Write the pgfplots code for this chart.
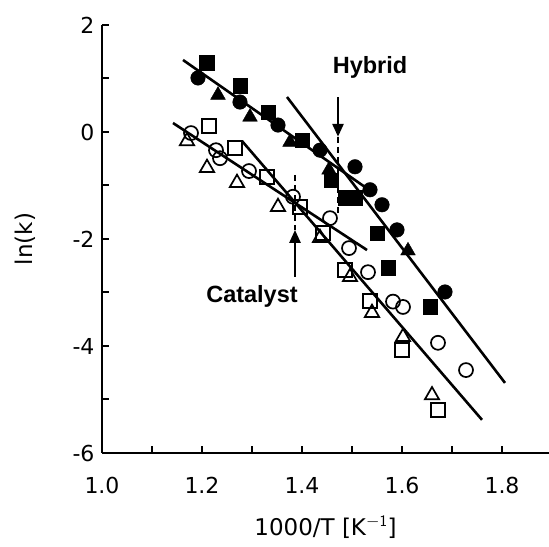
\documentclass[border=0pt]{standalone}
\usepackage{pgfplots}
\pgfplotsset{compat=1.18}
\usepackage{fontspec}
\setmainfont{DejaVu Sans}
\newfontfamily\arialb{Liberation Sans}
\usetikzlibrary{arrows.meta}
\begin{document}
\begin{tikzpicture}
\begin{axis}[
  scale only axis, width=447pt, height=428pt,
  xmin=1.0, xmax=1.894, ymin=-6, ymax=2,
  axis lines=left, axis line style={-, line width=2pt},
  clip=false,
  xtick={1.0,1.2,1.4,1.6,1.8}, xticklabels={1.0,1.2,1.4,1.6,1.8},
  minor xtick={1.1,1.3,1.5,1.7},
  ytick={-6,-4,-2,0,2}, yticklabels={-6,-4,-2,0,2},
  minor ytick={-5,-3,-1,1},
  tick align=inside,
  major tick length=7pt, minor tick length=7pt,
  every tick/.style={black, line width=2pt},
  tick label style={font=\fontsize{22}{26}\selectfont},
  xticklabel style={yshift=-21pt},
  yticklabel style={xshift=-4pt},
  xlabel={1000/T [K$^{\mathsf{-1}}$]},
  ylabel={ln(k)},
  label style={font=\fontsize{23}{27}\selectfont},
  xlabel style={at={(axis description cs:0.5,-0.173)}, anchor=center},
  ylabel style={at={(axis description cs:-0.172,0.5)}, anchor=center},
]
% fitted lines
\addplot[black, line width=2.6pt] coordinates {(1.162,1.346) (1.540,-1.12)};
\addplot[black, line width=2.6pt] coordinates {(1.370,0.654) (1.806,-4.69)};
\addplot[black, line width=2.6pt] coordinates {(1.142,0.168) (1.530,-2.206)};
\addplot[black, line width=2.6pt] coordinates {(1.280,-0.168) (1.760,-5.38)};
% dashed guides and arrows
\addplot[black, line width=1.6pt, dash pattern=on 6pt off 4pt] coordinates {(1.472,-0.09) (1.472,-1.51)};
\addplot[black, line width=2.6pt, -{Triangle[length=13pt,width=11pt]}] coordinates {(1.472,0.65) (1.472,-0.09)};
\addplot[black, line width=1.6pt, dash pattern=on 6pt off 4pt] coordinates {(1.386,-0.80) (1.386,-1.83)};
\addplot[black, line width=2.6pt, -{Triangle[length=13pt,width=11pt]}] coordinates {(1.386,-2.71) (1.386,-1.83)};
% filled squares
\addplot[only marks, mark=square*, mark size=7.3pt, black] coordinates {
(1.210,1.29) (1.276,0.86) (1.332,0.37) (1.400,-0.15) (1.458,-0.90)
(1.486,-1.23) (1.506,-1.23) (1.550,-1.89) (1.572,-2.54) (1.656,-3.27)};
% filled circles
\addplot[only marks, mark=*, mark size=7.3pt, black] coordinates {
(1.192,1.01) (1.276,0.56) (1.352,0.13) (1.436,-0.34) (1.506,-0.65)
(1.536,-1.08) (1.560,-1.36) (1.590,-1.83) (1.686,-2.99)};
% filled triangles
\addplot[only marks, mark=triangle*, mark size=8.5pt, black] coordinates {
(1.232,0.69) (1.296,0.28) (1.376,-0.19) (1.454,-0.71) (1.612,-2.22)};
% open squares
\addplot[only marks, mark=square, mark size=7pt, black, mark options={line width=1.7pt, fill=white}] coordinates {
(1.214,0.11) (1.266,-0.30) (1.330,-0.84) (1.396,-1.40) (1.442,-1.89)
(1.486,-2.58) (1.536,-3.16) (1.600,-4.07) (1.672,-5.20)};
% open circles
\addplot[only marks, mark=o, mark size=7pt, black, mark options={line width=1.7pt}] coordinates {
(1.178,-0.02) (1.228,-0.34) (1.236,-0.49) (1.294,-0.73) (1.382,-1.21)
(1.456,-1.61) (1.494,-2.17) (1.532,-2.62) (1.582,-3.17) (1.602,-3.27)
(1.672,-3.94) (1.728,-4.45)};
% open triangles
\addplot[only marks, mark=triangle, mark size=8.2pt, black, mark options={line width=1.7pt}] coordinates {
(1.170,-0.17) (1.210,-0.67) (1.270,-0.95) (1.352,-1.40) (1.436,-1.98)
(1.496,-2.71) (1.540,-3.38) (1.602,-3.83) (1.660,-4.92)};
\node[font=\arialb\bfseries\fontsize{23.5}{27}\selectfont] at (axis cs:1.536,1.215) {Hybrid};
\node[font=\arialb\bfseries\fontsize{23.5}{27}\selectfont] at (axis cs:1.300,-3.08) {Catalyst};
\end{axis}
\pgfresetboundingbox
\path[use as bounding box] ([shift={(-102pt,-94pt)}]current axis.south west) rectangle ([shift={(0pt,25pt)}]current axis.north east);
\end{tikzpicture}
\end{document}
